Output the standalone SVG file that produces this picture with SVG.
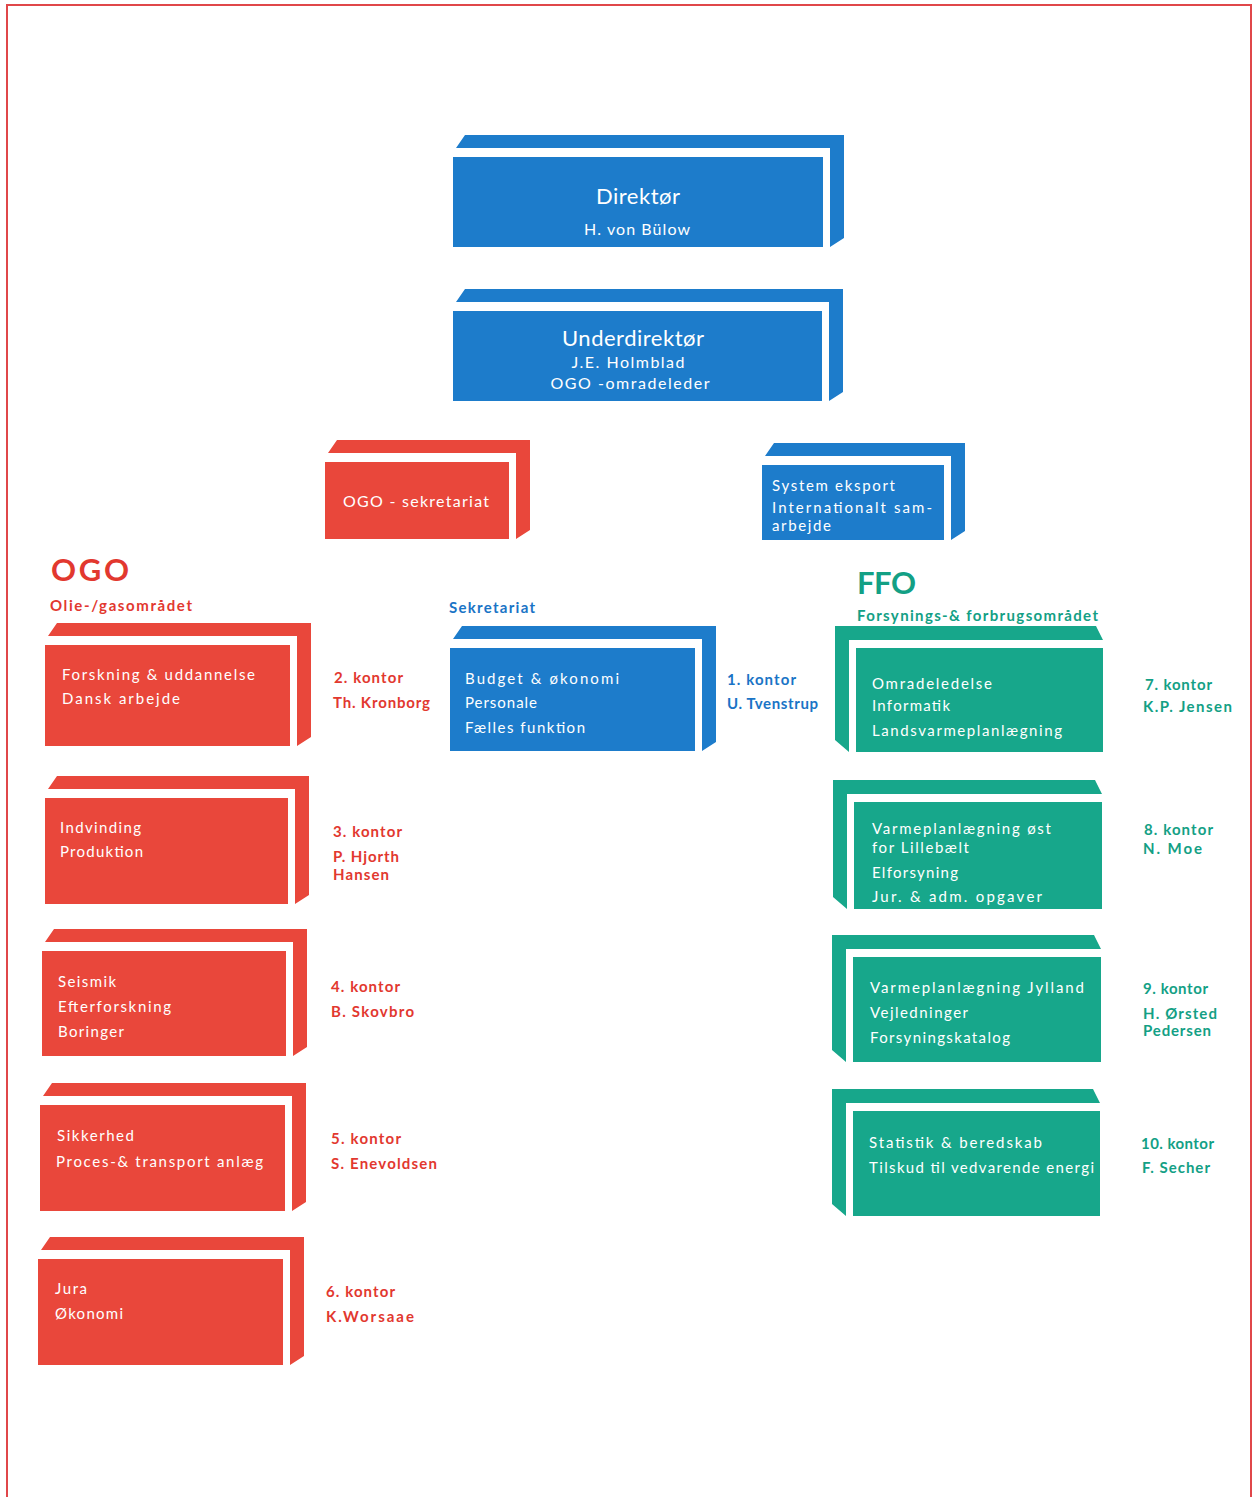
<svg xmlns="http://www.w3.org/2000/svg" width="1254" height="1497" viewBox="0 0 1254 1497">
<style>
text{font-family:Lato,"Noto Sans","DejaVu Sans",sans-serif}
.b{fill:#1d7ccb}.r{fill:#e9473b}.g{fill:#17a78b}
.w{fill:#ffffff;font-size:15px}
.wt{fill:#ffffff;font-size:22px}
.ws{fill:#ffffff;font-size:16px}
.lr{fill:#e2382f;font-size:15px;font-weight:700}
.lb{fill:#1a74c6;font-size:15px;font-weight:700}
.lg{fill:#13a085;font-size:15px;font-weight:700}
</style>
<rect x="0" y="0" width="1254" height="1497" fill="#ffffff"/>
<path d="M7 1497 V5 H1251 V1497" fill="none" stroke="#e0474a" stroke-width="2"/>

<g id="direktor">
<polygon class="b" points="456,148 465,135 844,135 844,238 830,247 830,148"/>
<rect class="b" x="453" y="157" width="370" height="90"/>
<text class="wt" x="638" y="204" text-anchor="middle" textLength="84">Direktør</text>
<text class="ws" x="637" y="235" text-anchor="middle" textLength="106">H. von Bülow</text>
</g>

<g id="underdirektor">
<polygon class="b" points="456,302 465,289 843,289 843,392 829,401 829,302"/>
<rect class="b" x="453" y="311" width="369" height="90"/>
<text class="wt" x="633" y="346" text-anchor="middle" textLength="142">Underdirektør</text>
<text class="ws" x="628" y="368" text-anchor="middle" textLength="113">J.E. Holmblad</text>
<text class="ws" x="630" y="389" text-anchor="middle" textLength="159">OGO -omradeleder</text>
</g>

<g id="ogo-sekretariat">
<polygon class="r" points="328,453 337,440 530,440 530,530 516,539 516,453"/>
<rect class="r" x="325" y="462" width="184" height="77"/>
<text class="ws" x="343" y="507" textLength="146">OGO - sekretariat</text>
</g>

<g id="system-eksport">
<polygon class="b" points="765,456 774,443 965,443 965,531 951,540 951,456"/>
<rect class="b" x="762" y="465" width="182" height="75"/>
<text class="w" x="772" y="491" textLength="123">System eksport</text>
<text class="w" x="772" y="513" font-size="14" textLength="160">Internationalt sam-</text>
<text class="w" x="772" y="531" font-size="14" textLength="59">arbejde</text>
</g>

<g id="ogo-header">
<text x="51" y="581" fill="#e2382f" font-size="31" font-weight="700" textLength="78">OGO</text>
<text class="lr" x="50" y="611" textLength="142">Olie-/gasområdet</text>
</g>

<g id="ffo-header">
<text x="857" y="594" fill="#13a085" font-size="31" font-weight="700" textLength="59">FFO</text>
<text class="lg" x="857" y="621" textLength="241">Forsynings-&amp; forbrugsområdet</text>
</g>

<g id="sekretariat">
<text class="lb" x="449" y="613" textLength="86">Sekretariat</text>
<polygon class="b" points="453,639 462,626 716,626 716,742 702,751 702,639"/>
<rect class="b" x="450" y="648" width="245" height="103"/>
<text class="w" x="465" y="684" textLength="154">Budget &amp; økonomi</text>
<text class="w" x="465" y="708" textLength="72">Personale</text>
<text class="w" x="465" y="733" textLength="120">Fælles funktion</text>
<text class="lb" x="727" y="685" textLength="69">1. kontor</text>
<text class="lb" x="727" y="709" textLength="91">U. Tvenstrup</text>
</g>

<g id="kontor2">
<polygon class="r" points="48,636 57,623 311,623 311,737 297,746 297,636"/>
<rect class="r" x="45" y="645" width="245" height="101"/>
<text class="w" x="62" y="680" textLength="193">Forskning &amp; uddannelse</text>
<text class="w" x="62" y="704" textLength="118">Dansk arbejde</text>
<text class="lr" x="334" y="683" textLength="69">2. kontor</text>
<text class="lr" x="333" y="708" textLength="97">Th. Kronborg</text>
</g>

<g id="kontor3">
<polygon class="r" points="48,789 57,776 309,776 309,895 295,904 295,789"/>
<rect class="r" x="45" y="798" width="243" height="106"/>
<text class="w" x="60" y="833" textLength="81">Indvinding</text>
<text class="w" x="60" y="857" textLength="83">Produktion</text>
<text class="lr" x="333" y="837" textLength="69">3. kontor</text>
<text class="lr" x="333" y="862" textLength="66">P. Hjorth</text>
<text class="lr" x="333" y="880" textLength="56">Hansen</text>
</g>

<g id="kontor4">
<polygon class="r" points="45,942 54,929 307,929 307,1047 293,1056 293,942"/>
<rect class="r" x="42" y="951" width="244" height="105"/>
<text class="w" x="58" y="987" textLength="58">Seismik</text>
<text class="w" x="58" y="1012" textLength="113">Efterforskning</text>
<text class="w" x="58" y="1037" textLength="66">Boringer</text>
<text class="lr" x="331" y="992" textLength="69">4. kontor</text>
<text class="lr" x="331" y="1017" textLength="83">B. Skovbro</text>
</g>

<g id="kontor5">
<polygon class="r" points="43,1096 52,1083 306,1083 306,1202 292,1211 292,1096"/>
<rect class="r" x="40" y="1105" width="245" height="106"/>
<text class="w" x="57" y="1141" textLength="77">Sikkerhed</text>
<text class="w" x="56" y="1167" textLength="207">Proces-&amp; transport anlæg</text>
<text class="lr" x="331" y="1144" textLength="70">5. kontor</text>
<text class="lr" x="331" y="1169" textLength="106">S. Enevoldsen</text>
</g>

<g id="kontor6">
<polygon class="r" points="41,1250 50,1237 304,1237 304,1356 290,1365 290,1250"/>
<rect class="r" x="38" y="1259" width="245" height="106"/>
<text class="w" x="55" y="1294" textLength="32">Jura</text>
<text class="w" x="55" y="1319" textLength="68">Økonomi</text>
<text class="lr" x="326" y="1297" textLength="69">6. kontor</text>
<text class="lr" x="326" y="1322" textLength="88">K.Worsaae</text>
</g>

<g id="kontor7">
<polygon class="g" points="835,626 1096,626 1103,640 849,640 849,752 835,740"/>
<rect class="g" x="856" y="648" width="247" height="104"/>
<text class="w" x="872" y="689" textLength="120">Omradeledelse</text>
<text class="w" x="872" y="711" textLength="78">Informatik</text>
<text class="w" x="872" y="736" textLength="190">Landsvarmeplanlægning</text>
<text class="lg" x="1145" y="690" textLength="67">7. kontor</text>
<text class="lg" x="1143" y="712" textLength="89">K.P. Jensen</text>
</g>

<g id="kontor8">
<polygon class="g" points="833,780 1095,780 1102,794 847,794 847,909 833,897"/>
<rect class="g" x="854" y="802" width="248" height="107"/>
<text class="w" x="872" y="834" textLength="179">Varmeplanlægning øst</text>
<text class="w" x="872" y="853" textLength="97">for Lillebælt</text>
<text class="w" x="872" y="878" textLength="86">Elforsyning</text>
<text class="w" x="872" y="902" textLength="170">Jur. &amp; adm. opgaver</text>
<text class="lg" x="1144" y="835" textLength="69">8. kontor</text>
<text class="lg" x="1143" y="854" textLength="59">N. Moe</text>
</g>

<g id="kontor9">
<polygon class="g" points="832,935 1094,935 1101,949 846,949 846,1062 832,1050"/>
<rect class="g" x="853" y="957" width="248" height="105"/>
<text class="w" x="870" y="993" textLength="214">Varmeplanlægning Jylland</text>
<text class="w" x="870" y="1018" textLength="98">Vejledninger</text>
<text class="w" x="870" y="1043" textLength="140">Forsyningskatalog</text>
<text class="lg" x="1143" y="994" textLength="65">9. kontor</text>
<text class="lg" x="1143" y="1019" textLength="74">H. Ørsted</text>
<text class="lg" x="1143" y="1036" textLength="68">Pedersen</text>
</g>

<g id="kontor10">
<polygon class="g" points="832,1089 1093,1089 1100,1103 846,1103 846,1216 832,1204"/>
<rect class="g" x="853" y="1111" width="247" height="105"/>
<text class="w" x="869" y="1148" textLength="173">Statistik &amp; beredskab</text>
<text class="w" x="869" y="1173" textLength="225">Tilskud til vedvarende energi</text>
<text class="lg" x="1141" y="1149" textLength="73">10. kontor</text>
<text class="lg" x="1142" y="1173" textLength="68">F. Secher</text>
</g>
</svg>
